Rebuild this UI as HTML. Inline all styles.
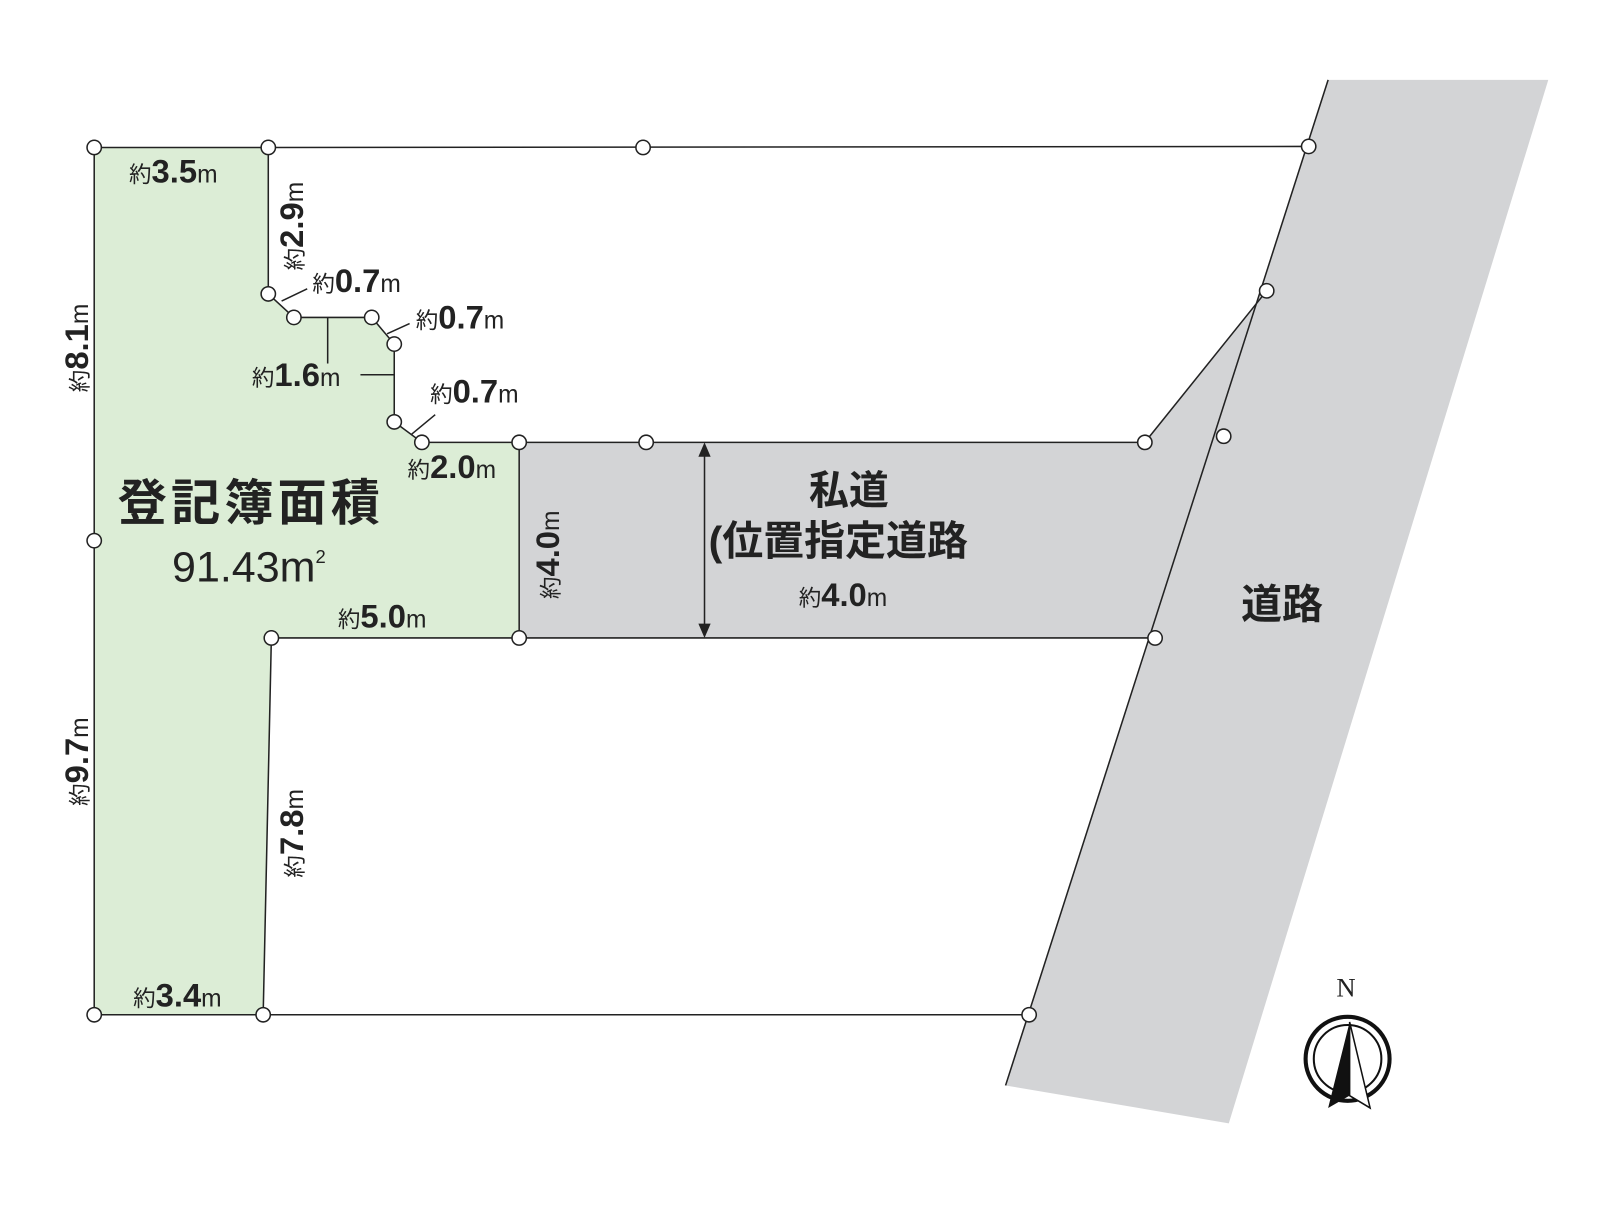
<!DOCTYPE html>
<html><head><meta charset="utf-8"><style>
html,body{margin:0;padding:0;background:#fff}
svg text{font-family:"Liberation Sans","Noto Sans CJK JP",sans-serif;fill:#222}
</style></head><body>
<svg width="1600" height="1200" viewBox="0 0 1600 1200" xmlns="http://www.w3.org/2000/svg">
<g transform="scale(1.024)">
<polygon points="1297,78 1512,78 1200,1097 982,1060" fill="#d3d4d6"/>
<polygon points="507,432 1118,432 1237,284 1128,623 507,623" fill="#d3d4d6"/>
<polygon points="92,144 262,144 262,287 287,310 363,310 385,336 385,412 412,432 507,432 507,623 265,623 257,991 92,991" fill="#dcedd6" stroke="#222" stroke-width="1.5"/>
<g stroke="#222" stroke-width="1.5" fill="none">
<line x1="262" y1="144" x2="1278" y2="143"/>
<line x1="1297" y1="78" x2="982" y2="1060"/>
<line x1="507" y1="432" x2="1118" y2="432"/>
<line x1="1118" y1="432" x2="1237" y2="284"/>
<line x1="507" y1="623" x2="1128" y2="623"/>
<line x1="257" y1="991" x2="1005" y2="991"/>
<line x1="320" y1="310" x2="320" y2="355"/>
<line x1="352" y1="366" x2="385" y2="366"/>
<line x1="275" y1="294" x2="300" y2="282"/>
<line x1="378" y1="326" x2="400" y2="316"/>
<line x1="402" y1="424" x2="425" y2="405"/>
<line x1="688" y1="440" x2="688" y2="616"/>
</g>
<polygon points="688,432 682,446 694,446" fill="#222"/>
<polygon points="688,623 682,609 694,609" fill="#222"/>
<g fill="#fff" stroke="#222" stroke-width="1.5">
<circle cx="92" cy="144" r="7"/><circle cx="262" cy="144" r="7"/><circle cx="628" cy="144" r="7"/><circle cx="1278" cy="143" r="7"/>
<circle cx="262" cy="287" r="7"/><circle cx="287" cy="310" r="7"/><circle cx="363" cy="310" r="7"/><circle cx="385" cy="336" r="7"/>
<circle cx="385" cy="412" r="7"/><circle cx="412" cy="432" r="7"/><circle cx="507" cy="432" r="7"/><circle cx="631" cy="432" r="7"/>
<circle cx="1118" cy="432" r="7"/><circle cx="1237" cy="284" r="7"/><circle cx="1195" cy="426" r="7"/><circle cx="1128" cy="623" r="7"/>
<circle cx="92" cy="528" r="7"/><circle cx="265" cy="623" r="7"/><circle cx="507" cy="623" r="7"/>
<circle cx="92" cy="991" r="7"/><circle cx="257" cy="991" r="7"/><circle cx="1005" cy="991" r="7"/>
</g>
<g font-size="32" font-weight="bold">
<text x="126" y="178"><tspan font-size="22" font-weight="normal">約</tspan>3.5<tspan font-size="24" font-weight="normal">m</tspan></text>
<text x="305" y="285"><tspan font-size="22" font-weight="normal">約</tspan>0.7<tspan font-size="24" font-weight="normal">m</tspan></text>
<text x="406" y="321"><tspan font-size="22" font-weight="normal">約</tspan>0.7<tspan font-size="24" font-weight="normal">m</tspan></text>
<text x="246" y="377"><tspan font-size="22" font-weight="normal">約</tspan>1.6<tspan font-size="24" font-weight="normal">m</tspan></text>
<text x="420" y="393"><tspan font-size="22" font-weight="normal">約</tspan>0.7<tspan font-size="24" font-weight="normal">m</tspan></text>
<text x="398" y="467"><tspan font-size="22" font-weight="normal">約</tspan>2.0<tspan font-size="24" font-weight="normal">m</tspan></text>
<text x="330" y="613"><tspan font-size="22" font-weight="normal">約</tspan>5.0<tspan font-size="24" font-weight="normal">m</tspan></text>
<text x="780" y="592"><tspan font-size="22" font-weight="normal">約</tspan>4.0<tspan font-size="24" font-weight="normal">m</tspan></text>
<text x="130" y="983"><tspan font-size="22" font-weight="normal">約</tspan>3.4<tspan font-size="24" font-weight="normal">m</tspan></text>
<text transform="translate(296,264) rotate(-90)"><tspan font-size="22" font-weight="normal">約</tspan>2.9<tspan font-size="24" font-weight="normal">m</tspan></text>
<text transform="translate(86,383) rotate(-90)"><tspan font-size="22" font-weight="normal">約</tspan>8.1<tspan font-size="24" font-weight="normal">m</tspan></text>
<text transform="translate(86,787) rotate(-90)"><tspan font-size="22" font-weight="normal">約</tspan>9.7<tspan font-size="24" font-weight="normal">m</tspan></text>
<text transform="translate(296,857) rotate(-90)"><tspan font-size="22" font-weight="normal">約</tspan>7.8<tspan font-size="24" font-weight="normal">m</tspan></text>
<text transform="translate(546,585) rotate(-90)"><tspan font-size="22" font-weight="normal">約</tspan>4.0<tspan font-size="24" font-weight="normal">m</tspan></text>
</g>
<text x="115" y="508" font-size="48" font-weight="bold" letter-spacing="4">登記簿面積</text>
<text x="168" y="568" font-size="42">91.43m<tspan font-size="18" dy="-18">2</tspan></text>
<text x="790" y="492" font-size="39" font-weight="bold">私道</text>
<text x="692" y="542" font-size="40" font-weight="bold">(位置指定道路</text>
<text x="1212" y="604" font-size="40" font-weight="bold">道路</text>
<text x="1305" y="973" font-size="26" style="font-family:'Liberation Serif',serif">N</text>
<g stroke="#111" fill="none">
<circle cx="1316" cy="1034" r="41" stroke-width="4"/>
<circle cx="1316" cy="1034" r="33" stroke-width="2"/>
</g>
<polygon points="1318,998 1297,1082 1318,1070" fill="#111"/>
<polygon points="1318,998 1338,1082 1318,1070" fill="#fff" stroke="#111" stroke-width="1.5"/>
</g>
</svg>
</body></html>
